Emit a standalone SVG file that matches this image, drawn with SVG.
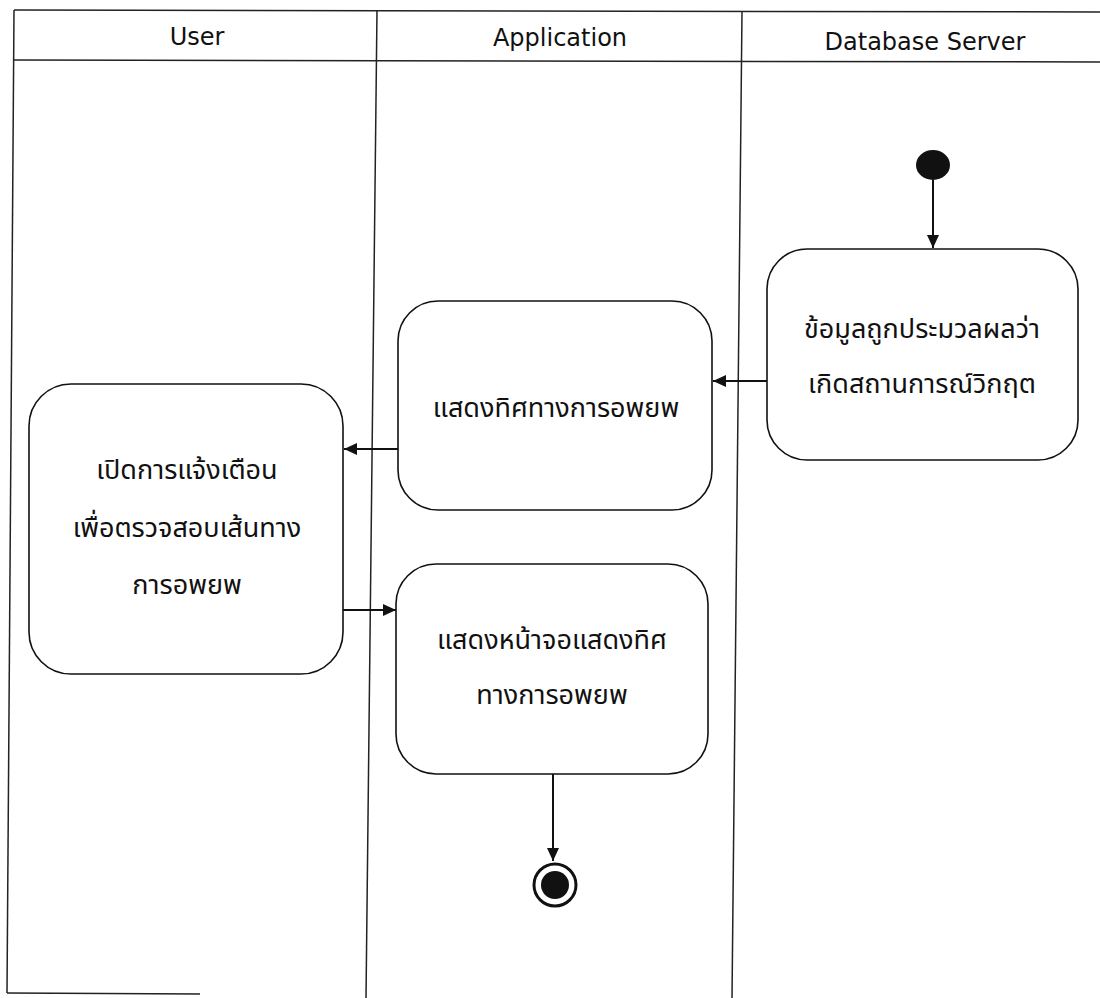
<svg xmlns="http://www.w3.org/2000/svg" width="1100" height="998" viewBox="0 0 1100 998">
<style>
.lane{stroke:#222;stroke-width:1.5;fill:none}
.node{fill:#fff;stroke:#111;stroke-width:1.6}
.hdr{font-family:"DejaVu Sans","Noto Sans",sans-serif;font-size:24px;fill:#111;text-anchor:middle}
.lbl{font-family:"Noto Sans Thai","Noto Sans","DejaVu Sans",sans-serif;font-size:27px;fill:#111;text-anchor:middle}
.edge{stroke:#111;stroke-width:2;fill:none;marker-end:url(#arr)}
</style>
<defs>
<marker id="arr" markerWidth="14" markerHeight="14" refX="13" refY="6" orient="auto" markerUnits="userSpaceOnUse">
<path d="M0,0 L13,6 L0,12 Z" fill="#111"/>
</marker>
</defs>
<rect width="1100" height="998" fill="#fff"/>
<g id="swimlanes">
<line class="lane" x1="14" y1="10" x2="1100" y2="12"/>
<line class="lane" x1="14" y1="60" x2="1100" y2="62"/>
<line class="lane" x1="14" y1="10" x2="7" y2="993"/>
<line class="lane" x1="377" y1="10" x2="366" y2="998"/>
<line class="lane" x1="742" y1="11" x2="732" y2="998"/>
<line class="lane" x1="7" y1="993" x2="200" y2="994"/>
<text class="hdr" x="197" y="45">User</text>
<text class="hdr" x="560" y="46">Application</text>
<text class="hdr" x="925" y="50">Database Server</text>
</g>
<g id="start">
<ellipse cx="933" cy="165" rx="17" ry="15" fill="#111"/>
</g>
<g id="n_db">
<rect class="node" x="767" y="249" width="311" height="211" rx="40"/>
<text class="lbl" x="922" y="338">ข้อมูลถูกประมวลผลว่า</text>
<text class="lbl" x="922" y="393">เกิดสถานการณ์วิกฤต</text>
</g>
<g id="n_app1">
<rect class="node" x="398" y="301" width="314" height="209" rx="40"/>
<text class="lbl" x="556" y="417">แสดงทิศทางการอพยพ</text>
</g>
<g id="n_user">
<rect class="node" x="29" y="384" width="314" height="290" rx="42"/>
<text class="lbl" x="187" y="479">เปิดการแจ้งเตือน</text>
<text class="lbl" x="187" y="537">เพื่อตรวจสอบเส้นทาง</text>
<text class="lbl" x="187" y="594">การอพยพ</text>
</g>
<g id="n_app2">
<rect class="node" x="396" y="564" width="312" height="210" rx="40"/>
<text class="lbl" x="552" y="649">แสดงหน้าจอแสดงทิศ</text>
<text class="lbl" x="552" y="704">ทางการอพยพ</text>
</g>
<g id="end">
<circle cx="555" cy="885" r="21" fill="#fff" stroke="#111" stroke-width="3"/>
<circle cx="555" cy="885" r="14" fill="#111"/>
</g>
<g id="connectors">
<line class="edge" x1="933" y1="180" x2="933" y2="248"/>
<line class="edge" x1="767" y1="381" x2="713" y2="381"/>
<line class="edge" x1="398" y1="449" x2="344" y2="449"/>
<line class="edge" x1="343" y1="610" x2="396" y2="610"/>
<line class="edge" x1="553" y1="774" x2="553" y2="861"/>
</g>
</svg>
